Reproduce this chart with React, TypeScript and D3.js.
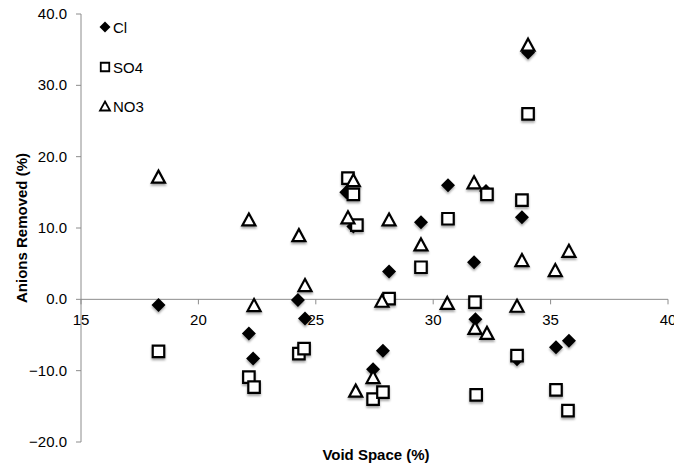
import React from "react";
import * as d3 from "d3";

const xTicks = [15, 20, 25, 30, 35, 40];
const yTicks = [-20, -10, 0, 10, 20, 30, 40];

const clX = [18.3, 22.15, 22.33, 24.24, 24.54, 26.3, 26.6, 27.44, 27.86, 28.12, 29.48, 30.63, 31.74, 31.8, 32.25, 33.57, 33.78, 34.04, 35.23, 35.78];
const clY = [-0.8, -4.8, -8.3, -0.1, -2.7, 15.0, 10.2, -9.8, -7.2, 3.9, 10.8, 16.0, 5.2, -2.8, 15.2, -8.4, 11.5, 34.6, -6.7, -5.8];

const soX = [18.3, 22.15, 22.37, 24.28, 24.5, 26.37, 26.6, 26.75, 27.44, 27.86, 28.12, 29.48, 30.63, 31.78, 31.83, 32.29, 33.57, 33.78, 34.04, 35.23, 35.74];
const soY = [-7.3, -10.9, -12.3, -7.6, -6.9, 17.0, 14.7, 10.4, -14.0, -13.0, 0.1, 4.5, 11.3, -0.4, -13.4, 14.7, -7.9, 13.9, 26.0, -12.7, -15.6];

const noX = [18.3, 22.15, 22.37, 24.28, 24.54, 26.37, 26.6, 26.7, 27.44, 27.82, 28.12, 29.48, 30.6, 31.74, 31.78, 32.29, 33.57, 33.78, 34.04, 35.2, 35.78];
const noY = [17.2, 11.2, -0.8, 9.0, 2.0, 11.5, 16.7, -12.8, -10.9, -0.2, 11.2, 7.7, -0.5, 16.4, -4.0, -4.7, -0.9, 5.5, 35.7, 4.1, 6.8];

const legendNames = ["Cl", "SO4", "NO3"];

const W = 674;
const H = 466;
const font = "'Liberation Sans', Arial, Helvetica, sans-serif";

const diamond = (cx: number, cy: number, r: number) =>
  `M${cx},${cy - r}L${cx + r},${cy}L${cx},${cy + r}L${cx - r},${cy}Z`;
const square = (cx: number, cy: number, s: number) =>
  `M${cx - s / 2},${cy - s / 2}h${s}v${s}h${-s}Z`;
const triangle = (cx: number, cy: number, w: number, h: number) =>
  `M${cx},${cy - h / 2}L${cx + w / 2},${cy + h / 2}L${cx - w / 2},${cy + h / 2}Z`;

export default function App() {
  const x = d3.scaleLinear().domain([15, 40]).range([81, 668]);
  const y = d3.scaleLinear().domain([-20, 40]).range([442, 14]);
  const y0 = y(0);
  const axisColor = "#8c8c8c";

  return (
    <svg
      width={W}
      height={H}
      style={{ position: "absolute", left: 0, top: 0, background: "#fff" }}
      fontFamily={font}
    >
      <defs>
        <filter id="sh" x="-50%" y="-50%" width="200%" height="200%">
          <feDropShadow dx="0" dy="2" stdDeviation="1" floodColor="#000" floodOpacity="0.35" />
        </filter>
      </defs>
      <rect width={W} height={H} fill="#fff" />

      {/* Y axis */}
      <line x1={81} x2={81} y1={y(40)} y2={y(-20)} stroke={axisColor} strokeWidth={1} />
      {yTicks.map((t) => (
        <g key={t}>
          <line x1={76} x2={81} y1={y(t)} y2={y(t)} stroke={axisColor} strokeWidth={1} />
          <text x={67} y={y(t) + 5} textAnchor="end" fontSize={15} fill="#000">
            {d3.format(".1f")(t)}
          </text>
        </g>
      ))}

      {/* X axis at y=0 */}
      <line x1={x(15)} x2={x(40)} y1={y0} y2={y0} stroke={axisColor} strokeWidth={1} />
      {xTicks.map((t) => (
        <g key={t}>
          <line x1={x(t)} x2={x(t)} y1={y0} y2={y0 + 5} stroke={axisColor} strokeWidth={1} />
          <text x={x(t)} y={y0 + 26} textAnchor="middle" fontSize={15} fill="#000">
            {t}
          </text>
        </g>
      ))}

      {/* Axis titles */}
      <text x={376} y={460} textAnchor="middle" fontSize={15} fontWeight="bold" fill="#000">
        Void Space (%)
      </text>
      <text
        transform={`translate(27, ${228}) rotate(-90)`}
        textAnchor="middle"
        fontSize={15}
        fontWeight="bold"
        fill="#000"
      >
        Anions Removed (%)
      </text>

      {/* Series: Cl */}
      <g filter="url(#sh)">
        {clX.map((v, i) => (
          <path key={"c" + i} d={diamond(x(v), y(clY[i]), 7)} fill="#000" />
        ))}
        {soX.map((v, i) => (
          <path
            key={"s" + i}
            d={square(x(v), y(soY[i]), 11.5)}
            fill="#fff"
            stroke="#000"
            strokeWidth={2.2}
          />
        ))}
        {noX.map((v, i) => (
          <path
            key={"n" + i}
            d={triangle(x(v), y(noY[i]), 13, 12)}
            fill="#fff"
            stroke="#000"
            strokeWidth={2.2}
            strokeLinejoin="miter"
          />
        ))}
      </g>

      {/* Legend */}
      <g>
        <path d={diamond(105, 27, 5.5)} fill="#000" />
        <text x={113} y={33} fontSize={15} fill="#000">{legendNames[0]}</text>
        <path d={square(105, 67, 8.5)} fill="#fff" stroke="#000" strokeWidth={1.8} />
        <text x={113} y={73} fontSize={15} fill="#000">{legendNames[1]}</text>
        <path d={triangle(105, 106, 10, 9)} fill="#fff" stroke="#000" strokeWidth={1.8} />
        <text x={113} y={112} fontSize={15} fill="#000">{legendNames[2]}</text>
      </g>
    </svg>
  );
}
